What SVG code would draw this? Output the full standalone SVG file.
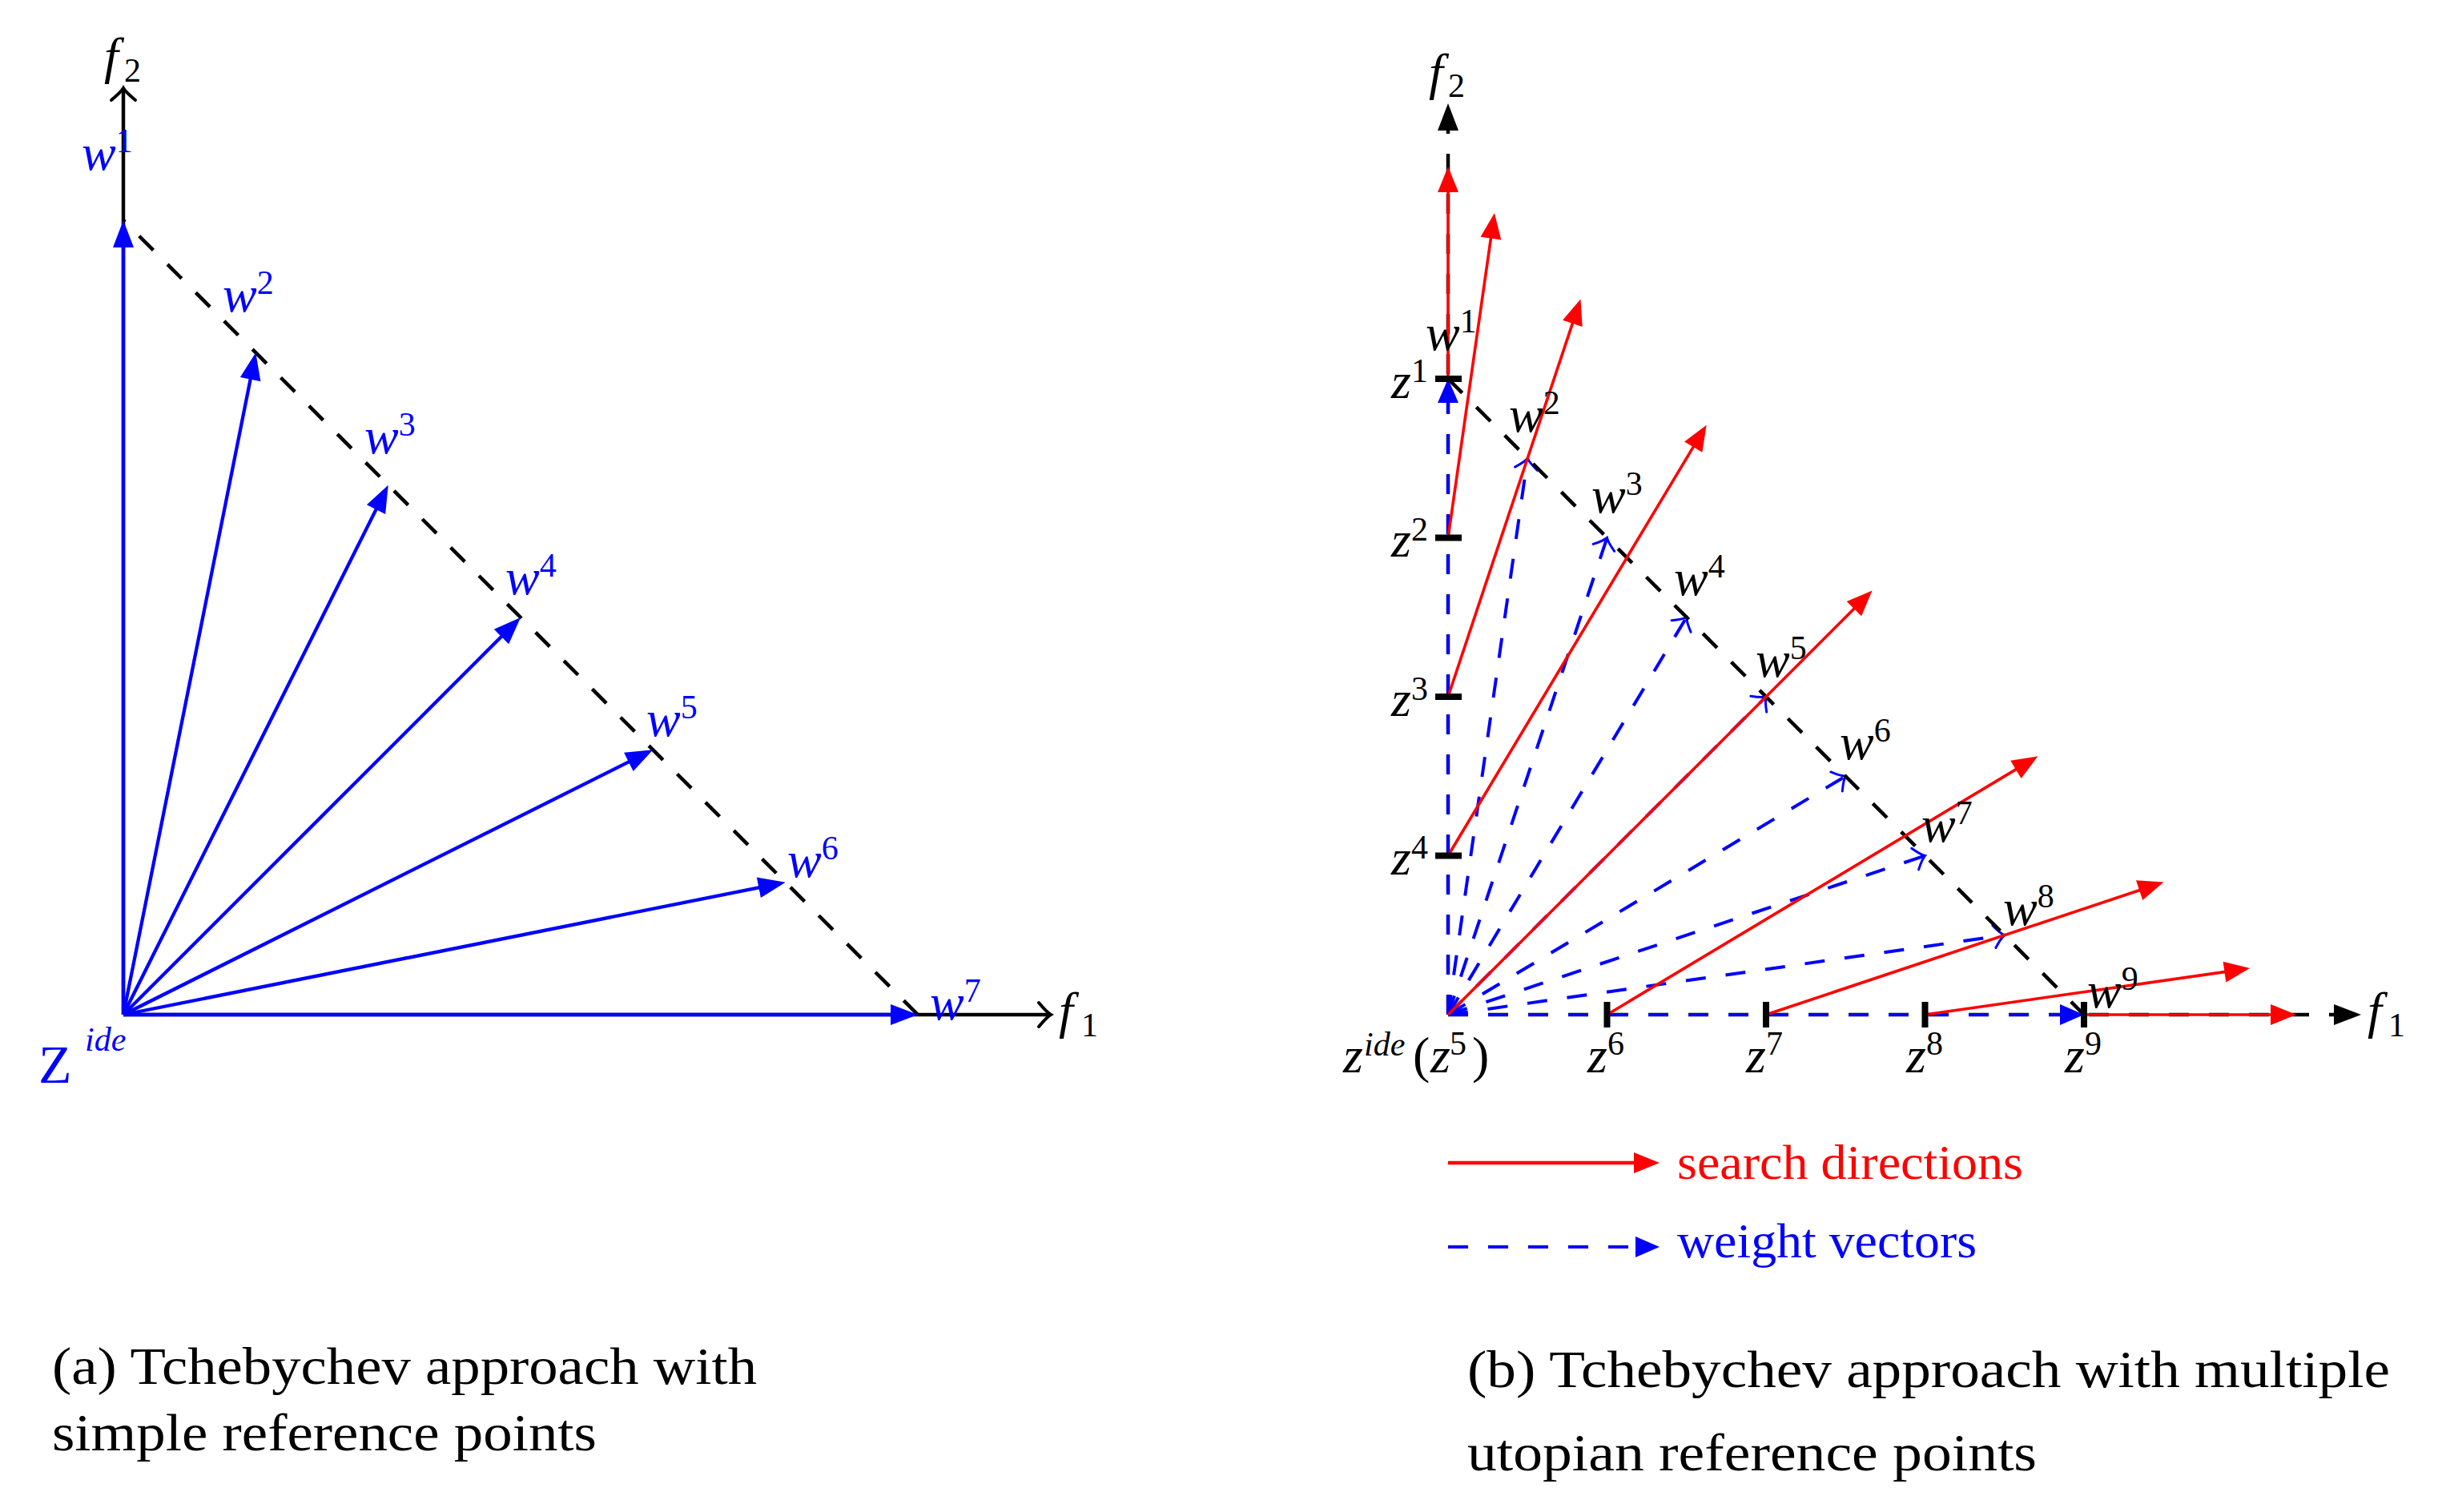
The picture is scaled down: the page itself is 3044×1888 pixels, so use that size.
<svg xmlns="http://www.w3.org/2000/svg" width="3044" height="1888" viewBox="0 0 3044 1888">
<style>
.lbl{font-family:"Liberation Serif",serif;font-style:italic;font-size:64px}
.sup{font-size:42px}
.up{font-style:normal}
.cap{font-family:"Liberation Serif",serif;font-size:66px;fill:#000}
.leg{font-family:"Liberation Serif",serif;font-size:62px}
.blue{fill:#0000ff}
.red{fill:#ff0000}
.blk{fill:#000}
.axis{stroke:#000;stroke-width:4.5;fill:none}
.diag{stroke:#000;stroke-width:4.5;fill:none;stroke-dasharray:25 25}
.wsolid{stroke:#0000ff;stroke-width:4.3;fill:none}
.wdash{stroke:#0000ff;stroke-width:4;fill:none;stroke-dasharray:25 25}
.srch{stroke:#ff0000;stroke-width:3.6;fill:none}
.tick{stroke:#000;stroke-width:8}
</style>
<defs>
<marker id="chevK" markerUnits="userSpaceOnUse" orient="auto" refX="0" refY="0" markerWidth="40" markerHeight="40" overflow="visible">
<path d="M-15,-15 Q-5,-3 0,0 Q-5,3 -15,15" fill="none" stroke="#000" stroke-width="4" stroke-linecap="round"/>
</marker>
<marker id="chevB" markerUnits="userSpaceOnUse" orient="auto" refX="0" refY="0" markerWidth="40" markerHeight="40" overflow="visible">
<path d="M-13,-14 Q-5,-3 0,0 Q-5,3 -13,14" fill="none" stroke="#0000ff" stroke-width="3" stroke-linecap="round"/>
</marker>
<marker id="triBL" markerUnits="userSpaceOnUse" orient="auto" refX="-20" refY="0" markerWidth="40" markerHeight="40" overflow="visible">
<path d="M-34,-13 L0,0 L-34,13 z" fill="#0000ff"/>
</marker>
<marker id="triBR" markerUnits="userSpaceOnUse" orient="auto" refX="-15" refY="0" markerWidth="40" markerHeight="40" overflow="visible">
<path d="M-30,-13 L0,0 L-30,13 z" fill="#0000ff"/>
</marker>
<marker id="triR" markerUnits="userSpaceOnUse" orient="auto" refX="-18" refY="0" markerWidth="40" markerHeight="40" overflow="visible">
<path d="M-32,-13 L0,0 L-32,13 z" fill="#ff0000"/>
</marker>
<marker id="triK" markerUnits="userSpaceOnUse" orient="auto" refX="-20" refY="0" markerWidth="40" markerHeight="40" overflow="visible">
<path d="M-34,-13 L0,0 L-34,13 z" fill="#000"/>
</marker>
</defs>
<rect width="3044" height="1888" fill="#fff"/>

<!-- ===================== Panel (a) ===================== -->
<g id="panel-a">
<g id="a-axes">
<line class="axis" x1="154" y1="1267" x2="154" y2="110" marker-end="url(#chevK)"/>
<line class="axis" x1="154" y1="1267" x2="1312" y2="1267" marker-end="url(#chevK)"/>
</g>
<g id="a-connectors">
<line class="diag" x1="1146" y1="1267" x2="154" y2="275"/>
<line class="wsolid" x1="154" y1="1267" x2="154" y2="295" marker-end="url(#triBL)"/>
<line class="wsolid" x1="154" y1="1267" x2="315.4" y2="459.9" marker-end="url(#triBL)"/>
<line class="wsolid" x1="154" y1="1267" x2="475.8" y2="623.6" marker-end="url(#triBL)"/>
<line class="wsolid" x1="154" y1="1267" x2="635.9" y2="785.1" marker-end="url(#triBL)"/>
<line class="wsolid" x1="154" y1="1267" x2="797.4" y2="945.2" marker-end="url(#triBL)"/>
<line class="wsolid" x1="154" y1="1267" x2="961.1" y2="1105.6" marker-end="url(#triBL)"/>
<line class="wsolid" x1="154" y1="1267" x2="1126" y2="1267" marker-end="url(#triBL)"/>
</g>
<g id="a-labels">
<g id="a-f2"><text class="lbl blk" x="130" y="91">f</text><text class="lbl sup up blk" x="155" y="102">2</text></g>
<g id="a-f1"><text class="lbl blk" x="1322" y="1283">f</text><text class="lbl sup up blk" x="1350" y="1294">1</text></g>
<g id="a-w1"><text class="lbl blue" x="102" y="212">w<tspan class="sup up" dy="-22">1</tspan></text></g>
<g id="a-w2"><text class="lbl blue" x="278" y="389">w<tspan class="sup up" dy="-22">2</tspan></text></g>
<g id="a-w3"><text class="lbl blue" x="455" y="566">w<tspan class="sup up" dy="-22">3</tspan></text></g>
<g id="a-w4"><text class="lbl blue" x="631" y="742">w<tspan class="sup up" dy="-22">4</tspan></text></g>
<g id="a-w5"><text class="lbl blue" x="807" y="919">w<tspan class="sup up" dy="-22">5</tspan></text></g>
<g id="a-w6"><text class="lbl blue" x="983" y="1095">w<tspan class="sup up" dy="-22">6</tspan></text></g>
<g id="a-w7"><text class="lbl blue" x="1161" y="1273">w<tspan class="sup up" dy="-22">7</tspan></text></g>
<g id="a-zide"><text class="lbl up blue" x="48" y="1352" style="font-size:68px">Z</text><text class="lbl sup blue" x="106" y="1312">ide</text></g>
</g>
<g id="a-caption">
<text class="cap" x="65" y="1728" textLength="880" lengthAdjust="spacingAndGlyphs">(a) Tchebychev approach with</text>
<text class="cap" x="65" y="1811" textLength="680" lengthAdjust="spacingAndGlyphs">simple reference points</text>
</g>
</g>

<!-- ===================== Panel (b) ===================== -->
<g id="panel-b">
<g id="b-axes">
<line class="diag" x1="1808" y1="1267" x2="1808" y2="149" marker-end="url(#triK)"/>
<line class="diag" x1="1808" y1="1267" x2="2928" y2="1267" marker-end="url(#triK)"/>
</g>
<g id="b-connectors">
<g id="b-weights">
<line class="wdash" x1="1808" y1="1267" x2="1808" y2="488" marker-end="url(#triBR)"/>
<line class="wdash" x1="1808" y1="1267" x2="1907.25" y2="572.25" marker-end="url(#chevB)"/>
<line class="wdash" x1="1808" y1="1267" x2="2006.5" y2="671.5" marker-end="url(#chevB)"/>
<line class="wdash" x1="1808" y1="1267" x2="2105.75" y2="770.75" marker-end="url(#chevB)"/>
<line class="wdash" x1="1808" y1="1267" x2="2205" y2="870" marker-end="url(#chevB)"/>
<line class="wdash" x1="1808" y1="1267" x2="2304.25" y2="969.25" marker-end="url(#chevB)"/>
<line class="wdash" x1="1808" y1="1267" x2="2403.5" y2="1068.5" marker-end="url(#chevB)"/>
<line class="wdash" x1="1808" y1="1267" x2="2502.75" y2="1167.75" marker-end="url(#chevB)"/>
<line class="wdash" x1="1808" y1="1267" x2="2587" y2="1267" marker-end="url(#triBR)"/>
</g>
<line class="diag" x1="1808" y1="473" x2="2602" y2="1267"/>
<g id="b-search">
<line class="srch" x1="1808" y1="473" x2="1808" y2="226" marker-end="url(#triR)"/>
<line class="srch" x1="1808" y1="671.5" x2="1863.4" y2="283.7" marker-end="url(#triR)"/>
<line class="srch" x1="1808" y1="870" x2="1967.8" y2="390.6" marker-end="url(#triR)"/>
<line class="srch" x1="1808" y1="1068.5" x2="2121.4" y2="546.1" marker-end="url(#triR)"/>
<line class="srch" x1="1808" y1="1267" x2="2324.8" y2="750.2" marker-end="url(#triR)"/>
<line class="srch" x1="2006.5" y1="1267" x2="2528.9" y2="953.6" marker-end="url(#triR)"/>
<line class="srch" x1="2205" y1="1267" x2="2684.4" y2="1107.2" marker-end="url(#triR)"/>
<line class="srch" x1="2403.5" y1="1267" x2="2791.3" y2="1211.6" marker-end="url(#triR)"/>
<line class="srch" x1="2602" y1="1267" x2="2849" y2="1267" marker-end="url(#triR)"/>
</g>
</g>
<g id="b-points">
<g id="z1"><line class="tick" x1="1792" y1="473" x2="1825" y2="473"/><text class="lbl blk" x="1737" y="497">z<tspan class="sup up" dy="-20">1</tspan></text></g>
<g id="z2"><line class="tick" x1="1792" y1="671.5" x2="1825" y2="671.5"/><text class="lbl blk" x="1737" y="695">z<tspan class="sup up" dy="-20">2</tspan></text></g>
<g id="z3"><line class="tick" x1="1792" y1="870" x2="1825" y2="870"/><text class="lbl blk" x="1737" y="894">z<tspan class="sup up" dy="-20">3</tspan></text></g>
<g id="z4"><line class="tick" x1="1792" y1="1068.5" x2="1825" y2="1068.5"/><text class="lbl blk" x="1737" y="1092">z<tspan class="sup up" dy="-20">4</tspan></text></g>
<g id="z5"><text class="lbl blk" x="1677" y="1339">z<tspan class="sup" x="1703" y="1318">ide</tspan><tspan class="up" x="1764" y="1339">(</tspan><tspan x="1786" y="1339">z</tspan><tspan class="sup up" x="1810" y="1317">5</tspan><tspan class="up" x="1838" y="1339">)</tspan></text></g>
<g id="z6"><line class="tick" x1="2006.5" y1="1251" x2="2006.5" y2="1283"/><text class="lbl blk" x="1982" y="1339">z<tspan class="sup up" dy="-22">6</tspan></text></g>
<g id="z7"><line class="tick" x1="2205" y1="1251" x2="2205" y2="1283"/><text class="lbl blk" x="2180" y="1339">z<tspan class="sup up" dy="-22">7</tspan></text></g>
<g id="z8"><line class="tick" x1="2403.5" y1="1251" x2="2403.5" y2="1283"/><text class="lbl blk" x="2380" y="1339">z<tspan class="sup up" dy="-22">8</tspan></text></g>
<g id="z9"><line class="tick" x1="2602" y1="1251" x2="2602" y2="1283"/><text class="lbl blk" x="2578" y="1339">z<tspan class="sup up" dy="-22">9</tspan></text></g>
</g>
<g id="b-labels">
<g id="b-f2"><text class="lbl blk" x="1784" y="111">f</text><text class="lbl sup up blk" x="1808" y="121">2</text></g>
<g id="b-f1"><text class="lbl blk" x="2956" y="1283">f</text><text class="lbl sup up blk" x="2982" y="1294">1</text></g>
<g id="b-w1"><text class="lbl blk" x="1780" y="437">w<tspan class="sup up" dy="-22">1</tspan></text></g>
<g id="b-w2"><text class="lbl blk" x="1884" y="539">w<tspan class="sup up" dy="-22">2</tspan></text></g>
<g id="b-w3"><text class="lbl blk" x="1987" y="640">w<tspan class="sup up" dy="-22">3</tspan></text></g>
<g id="b-w4"><text class="lbl blk" x="2090" y="743">w<tspan class="sup up" dy="-22">4</tspan></text></g>
<g id="b-w5"><text class="lbl blk" x="2192" y="845">w<tspan class="sup up" dy="-22">5</tspan></text></g>
<g id="b-w6"><text class="lbl blk" x="2297" y="948">w<tspan class="sup up" dy="-22">6</tspan></text></g>
<g id="b-w7"><text class="lbl blk" x="2399" y="1051">w<tspan class="sup up" dy="-22">7</tspan></text></g>
<g id="b-w8"><text class="lbl blk" x="2501" y="1155">w<tspan class="sup up" dy="-22">8</tspan></text></g>
<g id="b-w9"><text class="lbl blk" x="2606" y="1258">w<tspan class="sup up" dy="-22">9</tspan></text></g>
</g>
<g id="b-legend">
<line class="srch" x1="1808" y1="1452" x2="2054" y2="1452" style="stroke-width:4.5" marker-end="url(#triR)"/>
<text class="leg red" x="2094" y="1472" textLength="432" lengthAdjust="spacingAndGlyphs">search directions</text>
<line class="wdash" x1="1808" y1="1557" x2="2057" y2="1557" marker-end="url(#triBR)"/>
<text class="leg blue" x="2094" y="1570" textLength="374" lengthAdjust="spacingAndGlyphs">weight vectors</text>
</g>
<g id="b-caption">
<text class="cap" x="1832" y="1732" textLength="1152" lengthAdjust="spacingAndGlyphs">(b) Tchebychev approach with multiple</text>
<text class="cap" x="1832" y="1836" textLength="711" lengthAdjust="spacingAndGlyphs">utopian reference points</text>
</g>
</g>
</svg>
